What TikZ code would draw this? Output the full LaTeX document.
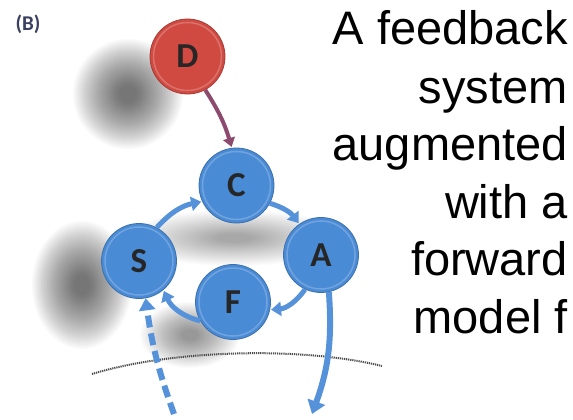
\documentclass[tikz,border=0pt]{standalone}
\usepackage{fontspec}
\setmainfont{Liberation Sans}
\newfontfamily\ballfont{Carlito}
\usetikzlibrary{arrows.meta}
\definecolor{ballblue}{HTML}{4A8BD6}
\definecolor{ballred}{HTML}{D04A42}
\definecolor{arrowblue}{HTML}{5592DA}
\definecolor{dcarrow}{HTML}{8C4A6E}
\definecolor{labelcol}{HTML}{3A4060}
\newcommand\mysoftshadow[4]{%
  \foreach \k in {16,19,...,100} {\fill[black, opacity=#4] (#1) ellipse ({#2*\k/100} and {#3*\k/100});}}
\tikzset{
  ball/.style={circle, minimum size=75pt, inner sep=0pt, fill=ballblue,
    draw=ballblue!80!black, line width=0.8pt,
    font=\ballfont\bfseries\fontsize{35}{35}\selectfont, text=black!85,
    path picture={\draw[white, opacity=0.22, line width=1.5pt]
      (path picture bounding box.center) circle (34pt);}},
  redball/.style={ball, fill=ballred, draw=ballred!80!black},
  flow/.style={draw=arrowblue, line width=5pt, shorten >=1pt,
    -{Triangle[width=14pt,length=10pt]}},
  bigflow/.style={draw=arrowblue, line width=6pt,
    -{Triangle[width=18pt,length=13pt]}},
  dashflow/.style={draw=arrowblue, line width=6pt, dash pattern=on 12pt off 6pt,
    -{Triangle[width=16pt,length=12pt]}},
  dcflow/.style={draw=dcarrow, line width=4pt, shorten >=1pt,
    -{Triangle[width=12pt,length=9pt]}},
  txt/.style={font=\fontsize{47}{52}\selectfont, inner sep=0pt, anchor=base east},
  horizon/.style={draw=black!70, line width=2pt, dash pattern=on 1.2pt off 0.9pt}
}
\begin{document}
\begin{tikzpicture}[x=1pt,y=-1pt]
\useasboundingbox (0,0) rectangle (573,420);
\fill[white] (0,0) rectangle (573,420);
% shadows
\mysoftshadow{128,94}{55}{55}{0.022}
\mysoftshadow{82,285}{50}{64}{0.022}
\mysoftshadow{235,238}{112}{28}{0.013}
\mysoftshadow{190,335}{50}{33}{0.015}
% label
\node[font=\ballfont\bfseries\fontsize{21}{21}\selectfont, text=labelcol] (lab) at (28,24) {(B)};
% balls
\node[redball] (D) at (187.5,56.5) {D};
\node[ball] (C) at (236.5,185.5) {C};
\node[ball] (S) at (139,261) {S};
\node[ball] (A) at (321,255) {A};
\node[ball] (F) at (233,302) {F};
% arrows
\draw[dcflow] (D.-62) to[bend left=8] (C.97);
\draw[flow] (S.62) to[bend left=18] (C.205);
\draw[flow] (C.-28) to[bend left=18] (A.125);
\draw[flow] (A.-115) to[bend left=25] (F.-12);
\draw[flow] (F.-150) to[bend left=25] (S.-50);
% horizon
\coordinate (hl) at (92,374);
\coordinate (hr) at (382,366);
\draw[horizon] (hl) .. controls (170,350) and (300,346) .. (hr);
% external arrows
\coordinate (inS) at (174,414);
\coordinate (outA) at (312,414);
\draw[dashflow] (inS) to[bend left=6] (S.-80);
\draw[bigflow] (A.-78) to[bend left=12] (outA);
% text
\node[txt] (t1) at (568,45) {A feedback};
\node[txt] (t2) at (568,103) {system};
\node[txt] (t3) at (568,160) {augmented};
\node[txt] (t4) at (568,218) {with a};
\node[txt] (t5) at (568,275) {forward};
\node[txt] (t6) at (568,333) {model f};
\end{tikzpicture}
\end{document}
